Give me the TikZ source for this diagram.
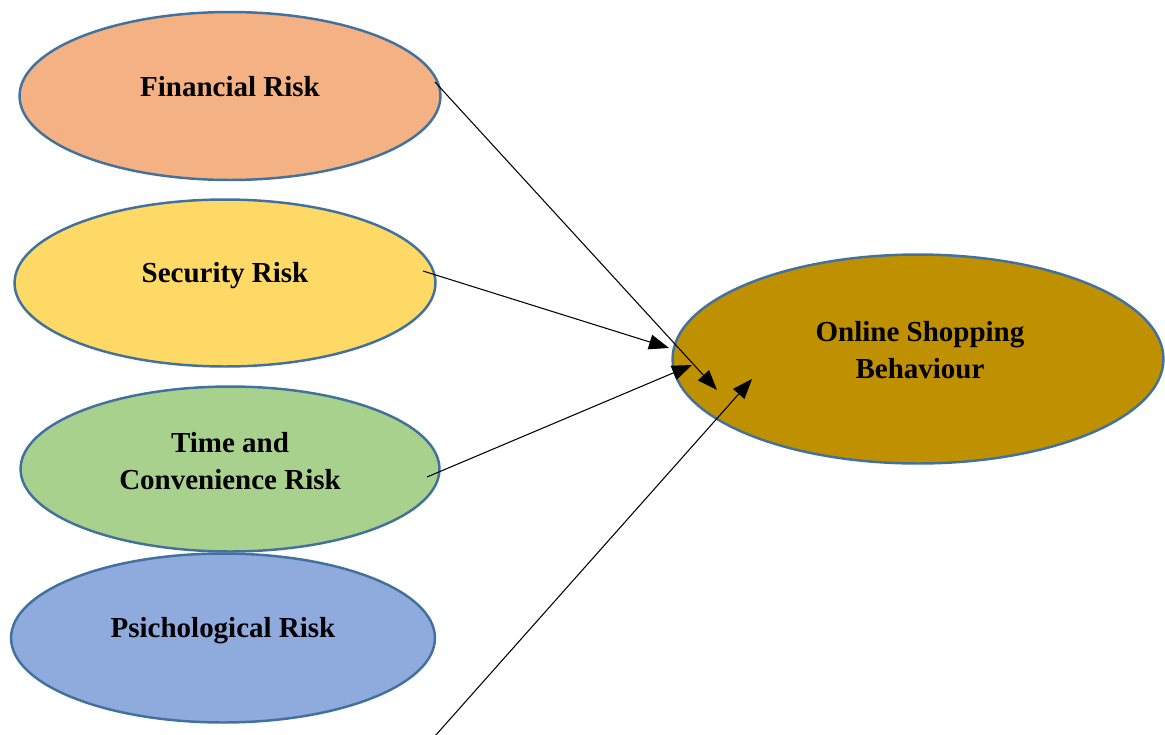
\documentclass[tikz,border=0pt]{standalone}
\usepackage{fontspec}
\setmainfont{Liberation Serif}
\usetikzlibrary{shapes.geometric, arrows.meta}
\definecolor{edgeblue}{HTML}{41719C}
\definecolor{finfill}{HTML}{F4B183}
\definecolor{secfill}{HTML}{FFD966}
\definecolor{timefill}{HTML}{A9D18E}
\definecolor{psyfill}{HTML}{8FAADC}
\definecolor{osbfill}{HTML}{BF9000}

\begin{document}
\begin{tikzpicture}[x=0.02cm, y=-0.02cm,
    risk/.style={ellipse, draw=edgeblue, line width=1.4pt, inner sep=0pt},
    lbl/.style={font=\fontsize{16.5}{21}\selectfont\bfseries, align=center},
    link/.style={-{Triangle[length=0.4cm, width=0.3cm]}, line width=0.6pt}]
  \useasboundingbox (0,0) rectangle (1165,734);

  % ellipses
  \node[risk, fill=finfill, minimum width=8.42cm, minimum height=3.36cm] (fin) at (230,96) {};
  \node[risk, fill=secfill, minimum width=8.42cm, minimum height=3.34cm] (sec) at (225,283) {};
  \node[risk, fill=timefill, minimum width=8.38cm, minimum height=3.3cm] (time) at (230,469) {};
  \node[risk, fill=psyfill, minimum width=8.48cm, minimum height=3.38cm] (psy) at (223,638) {};
  \node[risk, fill=osbfill, minimum width=9.82cm, minimum height=4.18cm] (osb) at (918,359) {};

  % labels
  \node[lbl] (finl) at (230,87) {Financial Risk};
  \node[lbl] (secl) at (225,276) {Security Risk};
  \node[lbl] (timel) at (230,461) {Time and\\Convenience Risk};
  \node[lbl] (psyl) at (223,631) {Psichological Risk};
  \node[lbl] (osbl) at (920,350) {Online Shopping\\Behaviour};

  % arrow ends
  \coordinate (fin0) at (435,82);
  \coordinate (fin1) at (717,390);
  \coordinate (sec0) at (423,271);
  \coordinate (sec1) at (669,348);
  \coordinate (time0) at (427,477);
  \coordinate (time1) at (692,365);
  \coordinate (psy0) at (435,736);
  \coordinate (psy1) at (752,379);

  \draw[link] (fin0) -- (fin1);
  \draw[link] (sec0) -- (sec1);
  \draw[link] (time0) -- (time1);
  \draw[link] (psy0) -- (psy1);
\end{tikzpicture}
\end{document}
